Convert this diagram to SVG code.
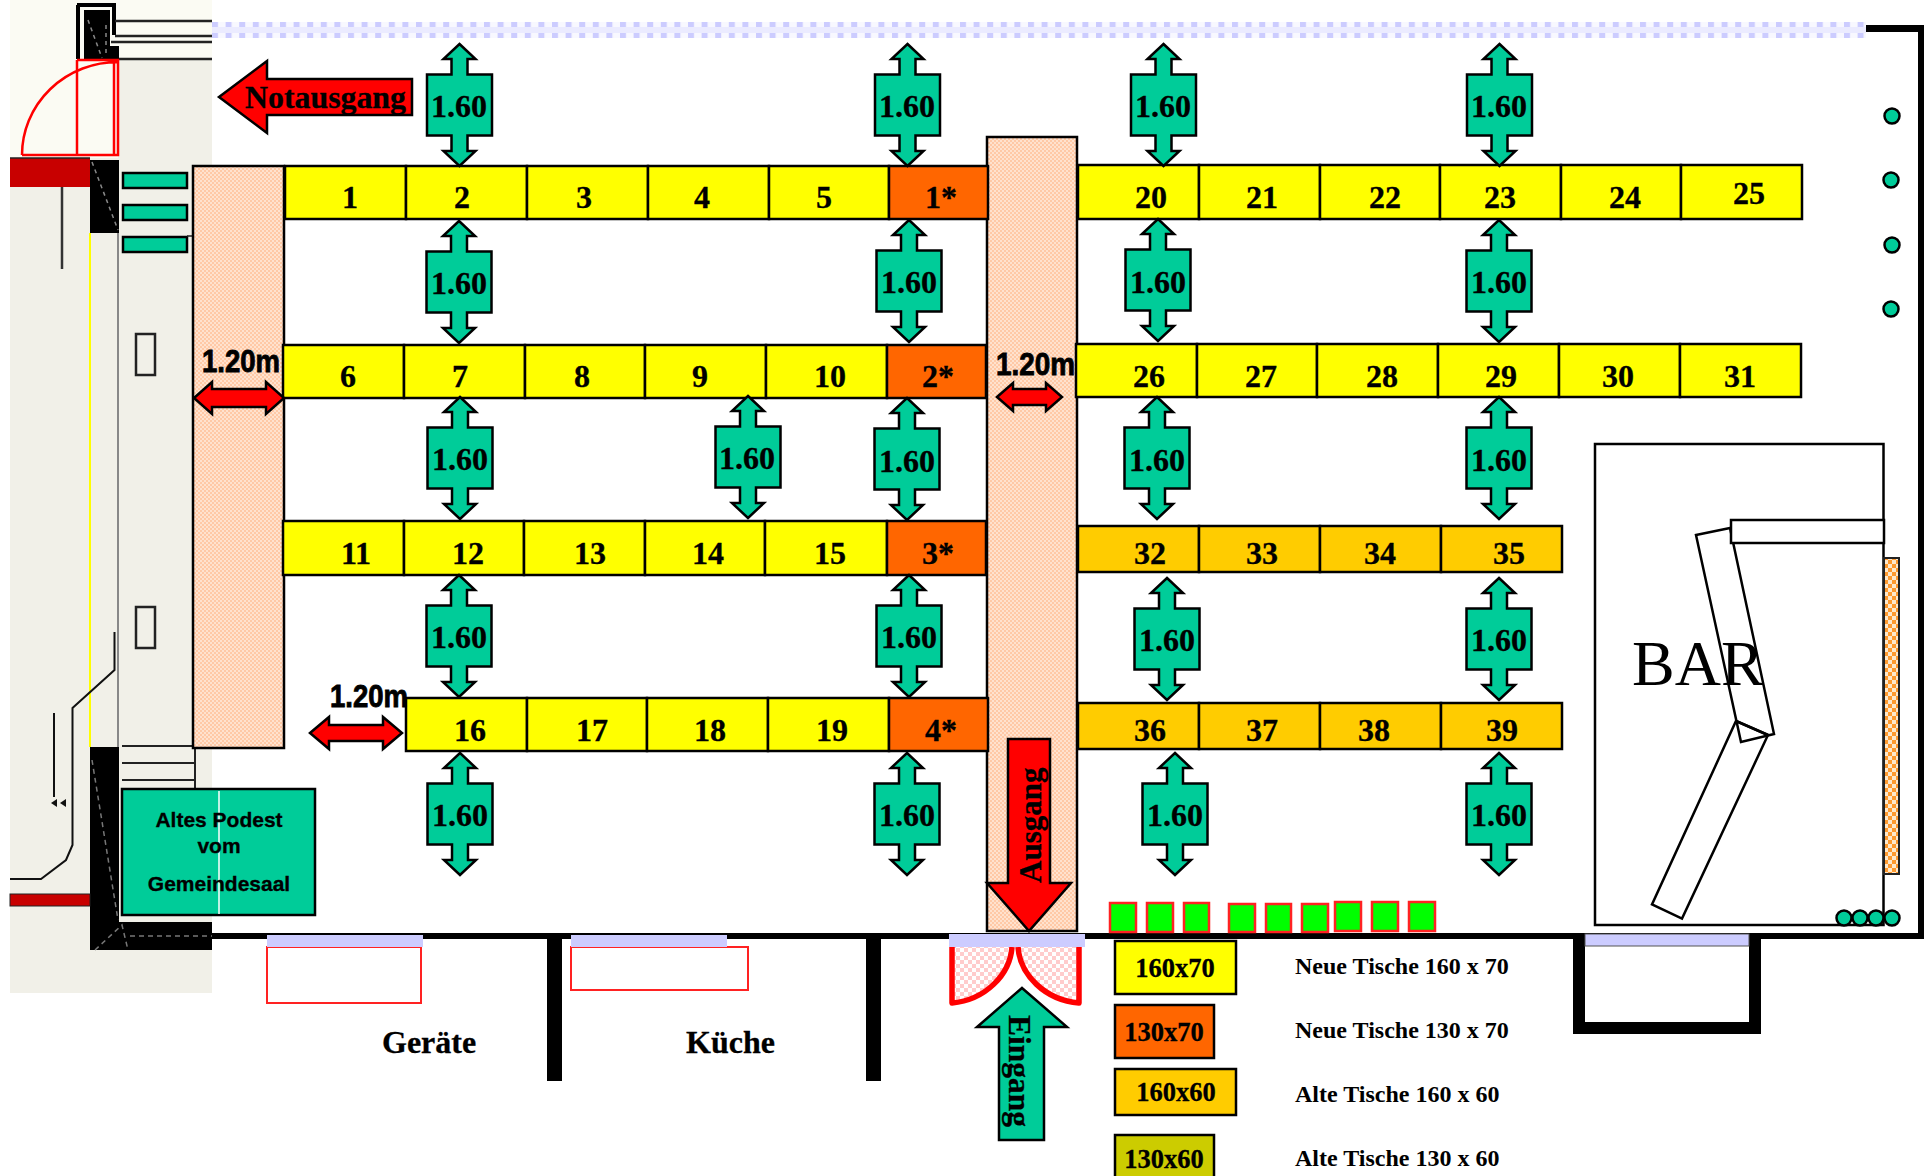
<svg xmlns="http://www.w3.org/2000/svg" xmlns:xlink="http://www.w3.org/1999/xlink" width="1928" height="1176" viewBox="0 0 1928 1176">
<style>
text{font-family:"Liberation Serif","Times New Roman",serif;font-weight:700;fill:#000;stroke:#000;stroke-width:.3}
.n{font-size:32px;text-anchor:middle}
.m{font-size:32px;text-anchor:middle}
.lg{font-size:26.500px;text-anchor:middle}
.lt{font-size:24px;stroke-width:0}
.w{font-family:"Liberation Sans",Arial,sans-serif;font-size:32px;stroke:#000;stroke-width:.9}
.p{font-family:"Liberation Sans",Arial,sans-serif;font-size:21px;text-anchor:middle}
.y{fill:#ff0;stroke:#000;stroke-width:2.5}
.o{fill:#f60;stroke:#000;stroke-width:2.5}
.a{fill:#fc0;stroke:#000;stroke-width:2.5}
.h{fill:url(#peach);stroke:#000;stroke-width:2.5}
.t{fill:#0c9;stroke:#000;stroke-width:2.5}
.r{fill:#f00;stroke:#000;stroke-width:2.5}
.b{fill:#0f0;stroke:#f22;stroke-width:2.5}
.l{fill:#ccf}
.k{fill:#000}
.ln{fill:none;stroke:#000;stroke-width:2.5}
.wh{fill:#fff;stroke:#000;stroke-width:2.5}
.c{fill:#0c9;stroke:#000;stroke-width:2.5}
</style>
<defs>
<pattern id="peach" width="4" height="4" patternUnits="userSpaceOnUse"><rect width="4" height="4" fill="#ffc9a6"/><rect width="2" height="2" fill="#ffe2ce"/><rect x="2" y="2" width="2" height="2" fill="#ffe2ce"/></pattern>
<pattern id="pinkc" width="8" height="8" patternUnits="userSpaceOnUse"><rect width="8" height="8" fill="#fff"/><rect width="4" height="4" fill="#fcc"/><rect x="4" y="4" width="4" height="4" fill="#fcc"/></pattern>
<pattern id="orc" width="8" height="8" patternUnits="userSpaceOnUse"><rect width="8" height="8" fill="#ffe9cc"/><rect width="4" height="4" fill="#ff9a2e"/><rect x="4" y="4" width="4" height="4" fill="#ff9a2e"/></pattern>
<pattern id="lav" x="212" y="22" width="13.600" height="16" patternUnits="userSpaceOnUse"><rect width="13.600" height="16" fill="#f8f8ff"/><rect y="5" width="13.600" height="6" fill="#ebebff"/><rect width="6" height="5" fill="#ccf"/><rect y="11" width="6" height="5" fill="#ccf"/></pattern>
<path id="da" d="M0-61L16-46H8V-30.500H32.500V30.500H8V46H16L0 61L-16 46H-8V30.500H-32.500V-30.500H-8V-46H-16Z"/>
</defs>
<rect width="1928" height="1176" fill="#fff"/>

<g id="old-plan">
<rect x="10" y="0" width="202" height="993" fill="#f1f0e8"/>
<rect x="10" y="0" width="202" height="60" fill="#fbfbf3"/>
<rect x="10" y="60" width="108" height="98" fill="#fbfbf3"/>
<path d="M77 5H114V35M78 5V59" fill="none" stroke="#000" stroke-width="4"/>
<path class="k" d="M84 10H110V46H119V60H84Z"/>
<path d="M115 21H212M115 36H212M111 42H212M119 59H212" stroke="#222" stroke-width="2.500" fill="none"/>
<path d="M88 20L102 58M106 25V55" stroke="#888" stroke-width="1.500" stroke-dasharray="4 4" fill="none"/>
<path d="M22 155A96 93 0 0 1 118 62M77 60V155M22 155H118V60H77M114 62V155" fill="none" stroke="#f00" stroke-width="2.500"/>
<rect x="10" y="158" width="80" height="29" fill="#c80000"/>
<path d="M10 158H90" stroke="#222" stroke-width="1.500"/>
<rect x="90" y="160" width="29" height="73" fill="#000"/>
<path d="M92 162L118 230" stroke="#888" stroke-width="1.500" stroke-dasharray="4 4" fill="none"/>
<path d="M62 187V269" stroke="#333" stroke-width="2.500"/>
<path d="M90 233V747" stroke="#ff0" stroke-width="2"/>
<path d="M118 233V747" stroke="#888" stroke-width="2"/>
<rect x="136" y="334" width="19" height="41" fill="none" stroke="#222" stroke-width="2.500"/>
<rect x="136" y="607" width="19" height="41" fill="none" stroke="#222" stroke-width="2.500"/>
<rect x="123" y="173" width="64" height="15" class="t"/>
<rect x="123" y="205" width="64" height="15" class="t"/>
<rect x="123" y="237" width="64" height="15" class="t"/>
<path d="M187 236H194" stroke="#222" stroke-width="1.500"/>
<path d="M114.500 632V670L72.500 708V845L66 860L41 879H10" fill="none" stroke="#111" stroke-width="2"/>
<path d="M54 713V797" stroke="#111" stroke-width="2"/>
<path d="M51 803L57 799V807ZM60 803L66 799V807Z" fill="#111"/>
<path d="M122 746H194M122 763H195M122 780H195M195 748V790" fill="none" stroke="#222" stroke-width="2"/>
<path class="k" d="M90 747H119V922H212V950H90Z"/>
<path d="M92 760L118 920M95 950L122 925L128 950M130 936H212" fill="none" stroke="#777" stroke-width="1.500" stroke-dasharray="5 4"/>
<rect x="10" y="894" width="80" height="12" fill="#c80000" stroke="#222" stroke-width="1"/>
</g>

<g id="walls">
<rect x="212" y="22" width="1654" height="16" fill="url(#lav)"/>
<path class="k" d="M1866 25H1924V939H212V933H1918V32H1866Z"/>
<rect class="k" x="547" y="938" width="15" height="143"/>
<rect class="k" x="866" y="938" width="15" height="143"/>
<path class="k" d="M1573 938H1585V1022H1749V938H1761V1034H1573Z"/>
</g>

<g id="rooms">
<rect x="267" y="947" width="154" height="56" fill="none" stroke="#f22" stroke-width="2"/>
<rect x="571" y="947" width="177" height="43" fill="none" stroke="#f22" stroke-width="2"/>
<path d="M1012 947C1010 975 985 1002 952 1003V947Z" fill="url(#pinkc)"/>
<path d="M1018 947C1020 975 1045 1002 1079 1003V947Z" fill="url(#pinkc)"/>
<path d="M1012 947C1010 975 985 1000 952 1003V947M1018 947C1020 975 1045 1000 1079 1003V947" fill="none" stroke="#f00" stroke-width="5.500" stroke-linejoin="round"/>
<rect class="l" x="267" y="935" width="156" height="12"/>
<rect class="l" x="571" y="935" width="156" height="12"/>
<rect class="l" x="949" y="934" width="136" height="13"/>
<rect class="l" x="1585" y="934" width="164" height="12" stroke="#555" stroke-width="1"/>
</g>

<g id="aisle-left"><rect class="h" x="193" y="166" width="91" height="582"/></g>
<g id="aisle-middle"><rect class="h" x="987" y="137" width="90" height="794"/></g>

<g id="tables">
<g id="t1"><rect class="y" x="285" y="166" width="121" height="53"/><text class="n" x="350" y="208">1</text></g>
<g id="t2"><rect class="y" x="406" y="166" width="121" height="53"/><text class="n" x="462" y="208">2</text></g>
<g id="t3"><rect class="y" x="527" y="166" width="121" height="53"/><text class="n" x="584" y="208">3</text></g>
<g id="t4"><rect class="y" x="648" y="166" width="121" height="53"/><text class="n" x="702" y="208">4</text></g>
<g id="t5"><rect class="y" x="769" y="166" width="120" height="53"/><text class="n" x="824" y="208">5</text></g>
<g id="t1s"><rect class="o" x="889" y="166" width="99" height="53"/><text class="n" x="941" y="208">1*</text></g>
<g id="t6"><rect class="y" x="283" y="345" width="121" height="53"/><text class="n" x="348" y="387">6</text></g>
<g id="t7"><rect class="y" x="404" y="345" width="121" height="53"/><text class="n" x="460" y="387">7</text></g>
<g id="t8"><rect class="y" x="525" y="345" width="120" height="53"/><text class="n" x="582" y="387">8</text></g>
<g id="t9"><rect class="y" x="645" y="345" width="121" height="53"/><text class="n" x="700" y="387">9</text></g>
<g id="t10"><rect class="y" x="766" y="345" width="121" height="53"/><text class="n" x="830" y="387">10</text></g>
<g id="t2s"><rect class="o" x="887" y="345" width="99" height="53"/><text class="n" x="938" y="387">2*</text></g>
<g id="t11"><rect class="y" x="283" y="521" width="121" height="54"/><text class="n" x="356" y="564">11</text></g>
<g id="t12"><rect class="y" x="404" y="521" width="120" height="54"/><text class="n" x="468" y="564">12</text></g>
<g id="t13"><rect class="y" x="524" y="521" width="121" height="54"/><text class="n" x="590" y="564">13</text></g>
<g id="t14"><rect class="y" x="645" y="521" width="120" height="54"/><text class="n" x="708" y="564">14</text></g>
<g id="t15"><rect class="y" x="765" y="521" width="122" height="54"/><text class="n" x="830" y="564">15</text></g>
<g id="t3s"><rect class="o" x="887" y="521" width="99" height="54"/><text class="n" x="938" y="564">3*</text></g>
<g id="t16"><rect class="y" x="406" y="698" width="121" height="53"/><text class="n" x="470" y="741">16</text></g>
<g id="t17"><rect class="y" x="527" y="698" width="120" height="53"/><text class="n" x="592" y="741">17</text></g>
<g id="t18"><rect class="y" x="647" y="698" width="121" height="53"/><text class="n" x="710" y="741">18</text></g>
<g id="t19"><rect class="y" x="768" y="698" width="121" height="53"/><text class="n" x="832" y="741">19</text></g>
<g id="t4s"><rect class="o" x="889" y="698" width="99" height="53"/><text class="n" x="941" y="741">4*</text></g>
<g id="t20"><rect class="y" x="1078" y="165" width="121" height="54"/><text class="n" x="1151" y="208">20</text></g>
<g id="t21"><rect class="y" x="1199" y="165" width="121" height="54"/><text class="n" x="1262" y="208">21</text></g>
<g id="t22"><rect class="y" x="1320" y="165" width="120" height="54"/><text class="n" x="1385" y="208">22</text></g>
<g id="t23"><rect class="y" x="1440" y="165" width="121" height="54"/><text class="n" x="1500" y="208">23</text></g>
<g id="t24"><rect class="y" x="1561" y="165" width="120" height="54"/><text class="n" x="1625" y="208">24</text></g>
<g id="t25"><rect class="y" x="1681" y="165" width="121" height="54"/><text class="n" x="1749" y="204">25</text></g>
<g id="t26"><rect class="y" x="1076" y="344" width="121" height="53"/><text class="n" x="1149" y="387">26</text></g>
<g id="t27"><rect class="y" x="1197" y="344" width="120" height="53"/><text class="n" x="1261" y="387">27</text></g>
<g id="t28"><rect class="y" x="1317" y="344" width="121" height="53"/><text class="n" x="1382" y="387">28</text></g>
<g id="t29"><rect class="y" x="1438" y="344" width="121" height="53"/><text class="n" x="1501" y="387">29</text></g>
<g id="t30"><rect class="y" x="1559" y="344" width="121" height="53"/><text class="n" x="1618" y="387">30</text></g>
<g id="t31"><rect class="y" x="1680" y="344" width="121" height="53"/><text class="n" x="1740" y="387">31</text></g>
<g id="t32"><rect class="a" x="1078" y="526" width="121" height="46"/><text class="n" x="1150" y="564">32</text></g>
<g id="t33"><rect class="a" x="1199" y="526" width="121" height="46"/><text class="n" x="1262" y="564">33</text></g>
<g id="t34"><rect class="a" x="1320" y="526" width="121" height="46"/><text class="n" x="1380" y="564">34</text></g>
<g id="t35"><rect class="a" x="1441" y="526" width="121" height="46"/><text class="n" x="1509" y="564">35</text></g>
<g id="t36"><rect class="a" x="1078" y="703" width="121" height="46"/><text class="n" x="1150" y="741">36</text></g>
<g id="t37"><rect class="a" x="1199" y="703" width="121" height="46"/><text class="n" x="1262" y="741">37</text></g>
<g id="t38"><rect class="a" x="1320" y="703" width="121" height="46"/><text class="n" x="1374" y="741">38</text></g>
<g id="t39"><rect class="a" x="1441" y="703" width="121" height="46"/><text class="n" x="1502" y="741">39</text></g>
</g>

<g id="connectors">
<g id="d1"><use href="#da" class="t" x="459.500" y="105"/><text class="m" x="459" y="117">1.60</text></g>
<g id="d2"><use href="#da" class="t" x="907.500" y="105"/><text class="m" x="907" y="117">1.60</text></g>
<g id="d3"><use href="#da" class="t" x="1163.500" y="105"/><text class="m" x="1163" y="117">1.60</text></g>
<g id="d4"><use href="#da" class="t" x="1499.500" y="105"/><text class="m" x="1499" y="117">1.60</text></g>
<g id="d5"><use href="#da" class="t" x="459" y="282"/><text class="m" x="459" y="294">1.60</text></g>
<g id="d6"><use href="#da" class="t" x="909" y="281"/><text class="m" x="909" y="293">1.60</text></g>
<g id="d7"><use href="#da" class="t" x="1158" y="280"/><text class="m" x="1158" y="293">1.60</text></g>
<g id="d8"><use href="#da" class="t" x="1499" y="281"/><text class="m" x="1499" y="293">1.60</text></g>
<g id="d9"><use href="#da" class="t" x="460" y="458"/><text class="m" x="460" y="470">1.60</text></g>
<g id="d10"><use href="#da" class="t" x="748" y="457"/><text class="m" x="747" y="469">1.60</text></g>
<g id="d11"><use href="#da" class="t" x="907" y="459"/><text class="m" x="907" y="472">1.60</text></g>
<g id="d12"><use href="#da" class="t" x="1157" y="458"/><text class="m" x="1157" y="471">1.60</text></g>
<g id="d13"><use href="#da" class="t" x="1499" y="458"/><text class="m" x="1499" y="471">1.60</text></g>
<g id="d14"><use href="#da" class="t" x="459" y="636"/><text class="m" x="459" y="648">1.60</text></g>
<g id="d15"><use href="#da" class="t" x="909" y="636"/><text class="m" x="909" y="648">1.60</text></g>
<g id="d16"><use href="#da" class="t" x="1167" y="639"/><text class="m" x="1167" y="651">1.60</text></g>
<g id="d17"><use href="#da" class="t" x="1499" y="639"/><text class="m" x="1499" y="651">1.60</text></g>
<g id="d18"><use href="#da" class="t" x="460" y="814"/><text class="m" x="460" y="826">1.60</text></g>
<g id="d19"><use href="#da" class="t" x="907" y="814"/><text class="m" x="907" y="826">1.60</text></g>
<g id="d20"><use href="#da" class="t" x="1175" y="814"/><text class="m" x="1175" y="826">1.60</text></g>
<g id="d21"><use href="#da" class="t" x="1499" y="814"/><text class="m" x="1499" y="826">1.60</text></g>
<g id="w1"><path class="r" d="M194 398L212 382V389H266V382L284 398L266 414V407H212V414Z"/><text class="w" x="202" y="372" textLength="78" lengthAdjust="spacingAndGlyphs">1.20m</text></g>
<g id="w2"><path class="r" d="M997 397L1013 383V389H1046V383L1062 397L1046 411V405H1013V411Z"/><text class="w" x="996" y="375" textLength="79" lengthAdjust="spacingAndGlyphs">1.20m</text></g>
<g id="w3"><path class="r" d="M310 733L329 717V725H383V717L402 733L383 749V741H329V749Z"/><text class="w" x="330" y="707" textLength="78" lengthAdjust="spacingAndGlyphs">1.20m</text></g>
</g>

<g id="notausgang"><path class="r" d="M219 97L267 61V79H412V115H267V133Z"/><text x="245" y="108" font-size="32" textLength="161" lengthAdjust="spacingAndGlyphs">Notausgang</text></g>
<g id="ausgang"><path class="r" d="M1008 739H1050V883H1071L1029 931L987 883H1008Z"/><text transform="translate(1041 883) rotate(-90)" font-size="31">Ausgang</text></g>
<g id="eingang"><path class="t" d="M1022 988L1067 1027H1044V1140H999V1027H977Z"/><text transform="translate(1009 1015) rotate(90)" font-size="31.500">Eingang</text></g>

<g id="podest"><rect class="t" x="122" y="789" width="193" height="126"/><path d="M219 791V914" stroke="#fff" stroke-width="1.500"/><text class="p" x="219" y="827">Altes Podest</text><text class="p" x="219" y="853">vom</text><text class="p" x="219" y="891">Gemeindesaal</text></g>

<g id="plants">
<rect class="b" x="1110" y="903" width="26" height="29"/>
<rect class="b" x="1147" y="903" width="26" height="29"/>
<rect class="b" x="1184" y="903" width="25" height="29"/>
<rect class="b" x="1229" y="904" width="26" height="28"/>
<rect class="b" x="1266" y="904" width="25" height="28"/>
<rect class="b" x="1302" y="904" width="26" height="28"/>
<rect class="b" x="1335" y="902" width="26" height="29"/>
<rect class="b" x="1372" y="902" width="26" height="29"/>
<rect class="b" x="1409" y="902" width="26" height="29"/>
</g>

<g id="bar">
<rect class="wh" x="1595" y="444" width="288.500" height="481"/>
<rect x="1884" y="558" width="15" height="316" fill="url(#orc)" stroke="#222" stroke-width="2"/>
<path class="wh" d="M1736 721L1768 735L1682 918.600L1652 904.500Z"/>
<path class="ln" d="M1696 535L1730 528L1774 734L1741 742Z"/>
<path class="ln" d="M1736 721L1768 735"/>
<rect class="wh" x="1731" y="520" width="153" height="23" stroke-width="3"/>
<text x="1632" y="685" font-size="64" style="font-weight:400;stroke-width:0">BAR</text>
<circle class="c" cx="1844" cy="918" r="7.500"/><circle class="c" cx="1860" cy="918" r="7.500"/><circle class="c" cx="1876" cy="918" r="7.500"/><circle class="c" cx="1892" cy="918" r="7.500"/>
</g>
<g id="pillars"><circle class="c" cx="1892" cy="116" r="7.500"/><circle class="c" cx="1891" cy="180" r="7.500"/><circle class="c" cx="1892" cy="245" r="7.500"/><circle class="c" cx="1891" cy="309" r="7.500"/></g>

<g id="room-labels"><text x="382" y="1053" font-size="32">Geräte</text><text x="686" y="1053" font-size="32">Küche</text></g>

<g id="legend">
<g id="l1"><rect class="y" x="1115" y="941" width="121" height="53" stroke-width="3"/><text class="lg" x="1175" y="977">160x70</text><text class="lt" x="1295" y="974">Neue Tische 160 x 70</text></g>
<g id="l2"><rect class="o" x="1115" y="1005" width="99" height="53"/><text class="lg" x="1164" y="1041">130x70</text><text class="lt" x="1295" y="1038">Neue Tische 130 x 70</text></g>
<g id="l3"><rect class="a" x="1115" y="1069" width="121" height="46" stroke-width="3"/><text class="lg" x="1176" y="1101">160x60</text><text class="lt" x="1295" y="1102">Alte Tische 160 x 60</text></g>
<g id="l4"><rect x="1115" y="1135" width="99" height="50" fill="#cc0" stroke="#000" stroke-width="2.500"/><text class="lg" x="1164" y="1168">130x60</text><text class="lt" x="1295" y="1166">Alte Tische 130 x 60</text></g>
</g>
</svg>
